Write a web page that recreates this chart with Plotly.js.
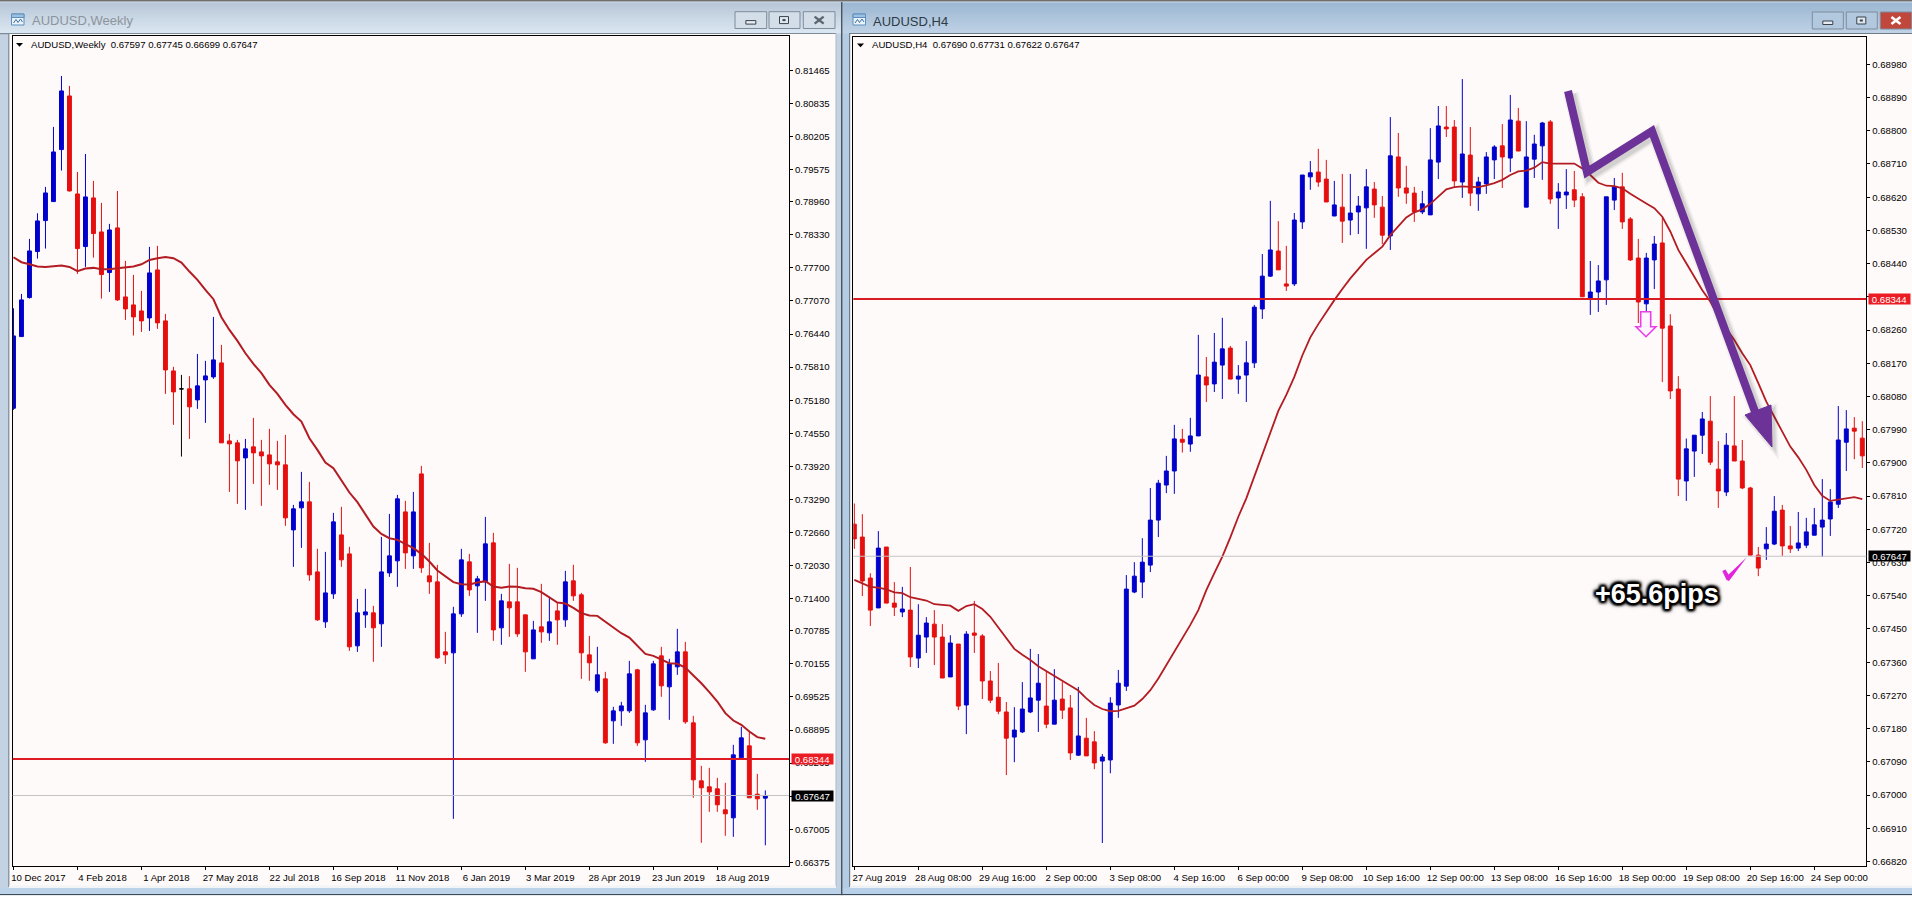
<!DOCTYPE html>
<html><head><meta charset="utf-8">
<script src="https://cdn.plot.ly/plotly-3.0.1.min.js"></script>
<style>html,body{margin:0;padding:0;background:#fff;overflow:hidden}#g{width:1912px;height:897px}</style>
</head><body><div id="g"></div>
<script>
const weeklyOpen=[.75026,.76391,.77134,.78011,.78601,.78963,.79954,.80976,.79109,.78106,
.79033,.78385,.77611,.78462,.77147,.76995,.7688,.76747,.77661,.7669,
.75737,.75395,.75395,.75185,.75566,.75623,.7589,.74404,.74366,.7408,
.7429,.74194,.74137,.74004,.73947,.72708,.73128,.73242,.71908,.70956,
.71489,.72613,.72251,.70499,.71089,.71127,.70918,.71889,.72118,.73051,
.72213,.73775,.71832,.71718,.70384,.70365,.71108,.72099,.71642,.71718,
.72461,.70842,.71337,.71337,.71089,.70251,.70861,.70746,.71165,.70994,
.71737,.7147,.70327,.69641,.6987,.6907,.6926,.6926,.70041,.68708,
.69279,.70308,.69718,.70099,.70384,.69032,.67927,.67813,.67775,.67375,
.67222,.68365,.68594,.67673,.67597];
const weeklyHigh=[.76931,.77204,.78252,.78741,.79243,.80386,.81357,.81167,.79528,.79871,
.79357,.78938,.78538,.79166,.77833,.77566,.77261,.781,.78119,.76823,
.75814,.75661,.75636,.76061,.75928,.76766,.76233,.74537,.74423,.74442,
.74842,.74423,.74633,.74404,.74518,.73185,.73813,.73623,.72347,.72289,
.73032,.73147,.72385,.71394,.71585,.71261,.72575,.73013,.73375,.73261,
.73432,.73928,.72461,.72042,.70765,.71242,.72347,.72251,.71832,.72956,
.72651,.71489,.72061,.71985,.71089,.70975,.7168,.71413,.71318,.71927,
.72042,.71508,.70689,.7048,.70003,.69337,.69432,.70213,.70061,.69375,
.70213,.7048,.70251,.70823,.70575,.69165,.68213,.68175,.67984,.67889,
.68613,.68956,.6886,.6806,.67745];
const weeklyLow=[.74994,.76391,.77115,.77877,.78068,.78963,.79554,.79154,.77585,.77719,
.77896,.77115,.77242,.77071,.76709,.76411,.7648,.76499,.76538,.75299,
.74709,.74105,.74442,.75014,.74747,.75585,.74366,.73432,.73204,.73089,
.73585,.73166,.73566,.7347,.72785,.72004,.72366,.71737,.70975,.70842,
.71394,.72004,.70403,.70384,.70842,.70194,.7048,.71813,.71623,.71965,
.71965,.71889,.71489,.70251,.70156,.67203,.71051,.71451,.70746,.71356,
.70594,.70518,.7067,.7067,.70003,.70251,.70556,.70594,.70518,.70861,
.71356,.6987,.69832,.69603,.68632,.68632,.68975,.69222,.68594,.68289,
.6926,.69527,.69089,.69946,.69013,.67603,.66746,.67336,.67336,.66879,
.6686,.68365,.67603,.67375,.66699];
const weeklyClose=[.76404,.7709,.78023,.78595,.79128,.79909,.81071,.79166,.78068,.79052,
.78354,.77573,.78423,.7709,.76919,.76766,.7669,.77604,.76652,.75756,
.75337,.75395,.75052,.75452,.75642,.75947,.74366,.74347,.74023,.74252,
.74175,.74118,.73966,.73947,.72937,.73109,.73242,.71851,.70994,.71508,
.72861,.72137,.7048,.71127,.71146,.70842,.71908,.72213,.73299,.7227,
.73051,.71985,.71718,.7027,.70327,.71108,.72137,.71565,.71775,.72442,
.70803,.71356,.71223,.70727,.70384,.70803,.70765,.70956,.70994,.71718,
.71451,.70365,.70175,.69946,.68651,.6926,.69355,.69965,.68651,.69222,
.70156,.69737,.70156,.70384,.69051,.67946,.67794,.67717,.6747,.67298,
.68422,.68746,.67603,.67584,.67647];
const weeklyMA=[.77903,.77808,.77769,.77725,.77719,.77725,.77744,.77719,.77636,.77687,
.777,.77674,.77674,.77693,.77712,.77725,.77769,.77852,.77884,.77909,
.77884,.77801,.7763,.77471,.7728,.77103,.7676,.76518,.76309,.76074,
.75871,.75693,.75471,.75299,.7509,.74912,.74772,.74455,.74232,.73991,
.73883,.73661,.7342,.73236,.72994,.72772,.72632,.7255,.72518,.72435,
.72359,.72251,.72105,.71934,.71819,.71712,.71673,.71667,.71705,.71731,
.71629,.71604,.71629,.71623,.71597,.71585,.71521,.71426,.71324,.71305,
.71223,.71121,.71077,.7107,.70962,.70854,.7074,.70657,.70505,.70346,
.70308,.70245,.70168,.70156,.70086,.69934,.69787,.69616,.69438,.69216,
.69076,.68994,.68867,.68759,.68727];
const weeklyPriceTicks=[.81465,.80835,.80205,.79575,.7896,.7833,.777,.7707,.7644,.7581,.7518,.7455,.7392,.7329,.7266,.7203,.714,.70785,.70155,.69525,.68895,.68265,.67635,.67005,.66375];
const weeklyDateTickBars=[0,8,16,24,32,40,48,56,64,72,80,88];
const weeklyDateTicks=["10 Dec 2017","4 Feb 2018","1 Apr 2018","27 May 2018","22 Jul 2018","16 Sep 2018","11 Nov 2018","6 Jan 2019","3 Mar 2019","28 Apr 2019","23 Jun 2019","18 Aug 2019"];

const h4Open=[.67734,.67699,.67588,.67507,.67672,.6752,.67496,.67501,.67371,.67428,
.67463,.67428,.6732,.67409,.67244,.67439,.67431,.67309,.67265,.67225,
.67157,.67171,.67225,.67257,.67241,.67192,.6726,.67236,.67108,.67154,
.67144,.67092,.67095,.67244,.67295,.6755,.67577,.67623,.67745,.6784,
.67878,.67964,.67951,.67973,.68133,.68114,.68165,.68211,.68127,.68138,
.68171,.68317,.68406,.68474,.68385,.68385,.68553,.68675,.68688,.68669,
.68569,.68593,.68558,.6858,.68591,.68642,.68593,.68515,.68729,.68645,
.68631,.6858,.68572,.68715,.6881,.6881,.68661,.68734,.68629,.68656,
.68721,.68759,.68726,.68826,.68593,.68723,.68759,.68824,.68618,.68626,
.6864,.68621,.68347,.68363,.68396,.68612,.68648,.68561,.68455,.68331,
.6845,.68496,.68271,.681,.67851,.67932,.67975,.68013,.67883,.67821,
.67946,.67905,.67832,.6765,.67667,.6768,.67772,.67675,.67669,.67677,
.67704,.67726,.67748,.67788,.67956,.67994,.67967];
const h4High=[.6779,.67761,.67601,.67715,.67672,.67577,.67564,.67618,.67517,.67482,
.67501,.67463,.67433,.67409,.67444,.67526,.67436,.67336,.67358,.67252,
.67238,.67306,.67396,.67382,.67336,.67341,.67306,.67271,.67293,.67209,
.67173,.67111,.67265,.67339,.67596,.67631,.67696,.67832,.67854,.67919,
.68003,.67992,.68022,.68247,.68187,.68252,.68293,.68217,.68165,.6823,
.68328,.68466,.6861,.68555,.68488,.68577,.6868,.68718,.68751,.68721,
.68664,.68683,.68683,.68623,.68696,.68661,.68623,.68837,.68794,.68705,
.68648,.68637,.68807,.68867,.68867,.68829,.6894,.6881,.68675,.68742,
.68761,.68818,.68897,.68862,.68826,.68789,.68824,.68829,.68658,.68696,
.68691,.68631,.68447,.68436,.68621,.68672,.68686,.68566,.68507,.68469,
.68515,.68564,.68303,.68135,.67966,.67975,.68038,.68081,.67959,.67981,
.68081,.67962,.67835,.67672,.67726,.6781,.67786,.67729,.67767,.67751,
.67778,.67856,.67829,.68054,.68043,.68024,.68013];
const h4Low=[.67667,.67539,.67458,.67507,.6752,.67485,.67482,.67347,.67344,.67385,
.67352,.67317,.6732,.6723,.67165,.67385,.6726,.67249,.67219,.67054,
.67089,.67168,.67222,.67171,.67181,.67192,.67206,.67095,.67106,.67106,
.6707,.6687,.67059,.67209,.67282,.67547,.67534,.67604,.67699,.67818,
.67816,.67928,.6793,.67973,.68065,.68092,.68073,.68127,.68087,.68065,
.68157,.6829,.68404,.68423,.68366,.68379,.68534,.6864,.68648,.68607,
.68569,.68496,.68517,.6852,.6848,.68564,.68493,.68477,.68621,.68602,
.68553,.68574,.68572,.68669,.68783,.68645,.68618,.68596,.68583,.68629,
.68669,.68645,.68688,.68745,.68593,.68672,.68667,.68602,.68534,.68588,
.68593,.6835,.68301,.68309,.68328,.68585,.68534,.68447,.68279,.68301,
.68371,.68119,.68073,.6781,.67797,.67862,.67924,.67894,.67778,.6781,
.67905,.67829,.6765,.67593,.67637,.67677,.67648,.67656,.67661,.67669,
.67704,.67645,.67702,.67778,.67878,.6791,.67886];
const h4Close=[.67694,.6758,.67501,.67669,.6752,.67509,.67504,.67374,.67433,.67466,
.67428,.67317,.67412,.67241,.67436,.67433,.67309,.67257,.67227,.67154,
.67176,.67233,.67263,.67303,.67192,.67257,.6723,.67114,.6716,.67106,
.67087,.67103,.67249,.67303,.67558,.67593,.67631,.67745,.67845,.67878,
.67965,.67956,.67973,.68138,.68111,.68173,.68209,.68127,.68135,.68171,
.68322,.68406,.68477,.68423,.68379,.68558,.6868,.68686,.68661,.68607,
.68599,.68555,.68577,.68596,.68648,.68599,.68517,.68732,.68645,.68631,
.6858,.68602,.68721,.68813,.68805,.68664,.68737,.68631,.68661,.68729,
.68756,.68729,.68829,.68745,.68729,.68764,.68821,.68615,.68634,.68634,
.68612,.6835,.68363,.68393,.68621,.68648,.68553,.6845,.68336,.68455,
.68493,.68265,.68095,.67856,.67938,.67975,.68019,.67902,.67824,.67948,
.67905,.67832,.6765,.67615,.6768,.67769,.67675,.67667,.67683,.67713,
.67732,.67745,.67794,.67962,.67992,.67986,.67919];
const h4MA=[.67583,.67573,.67564,.67562,.67557,.67549,.67547,.67536,.67531,.67527,
.67517,.67515,.67513,.67499,.67512,.67517,.67504,.67483,.67454,.67424,
.67396,.6738,.67366,.67349,.67336,.67323,.6731,.67296,.67283,.67262,
.67244,.67233,.67227,.67228,.67234,.67242,.6726,.67284,.67316,.67352,
.67388,.67424,.67461,.67501,.67555,.67601,.67646,.67698,.67754,.67804,
.67863,.67926,.67985,.68041,.68084,.68133,.68191,.6824,.68276,.68309,
.68341,.68371,.684,.68425,.6845,.68468,.68486,.68517,.6854,.68565,
.68579,.68587,.68602,.68621,.68641,.68647,.68649,.68648,.68647,.68652,
.68658,.68667,.6868,.6869,.68692,.687,.68715,.68711,.68711,.68711,
.68711,.68698,.6868,.68659,.68651,.6865,.68644,.68629,.68615,.68603,
.6859,.68567,.68527,.68477,.68441,.68405,.68368,.68337,.68296,.68265,
.68233,.68197,.68165,.68116,.68066,.68025,.67985,.67944,.67915,.67881,
.6784,.67811,.67797,.67801,.67805,.67807,.67802];
const h4PriceTicks=[.6898,.6889,.688,.6871,.6862,.6853,.6844,.6835,.6826,.6817,.6808,.6799,.679,.6781,.6772,.6763,.6754,.6745,.6736,.6727,.6718,.6709,.67,.6691,.6682];
const h4DateTickBars=[0,8,16,24,32,40,48,56,64,72,80,88,96,104,112,120];
const h4DateTicks=["27 Aug 2019","28 Aug 08:00","29 Aug 16:00","2 Sep 00:00","3 Sep 08:00","4 Sep 16:00","6 Sep 00:00","9 Sep 08:00","10 Sep 16:00","12 Sep 00:00","13 Sep 08:00","16 Sep 16:00","18 Sep 00:00","19 Sep 08:00","20 Sep 16:00","24 Sep 00:00"];

const targetLevel=0.68344, lastPrice=0.67647;
const weeklyHeader="AUDUSD,Weekly  0.67597 0.67745 0.66699 0.67647";
const h4Header="AUDUSD,H4  0.67690 0.67731 0.67622 0.67647";
const resultLabel="+65.6pips";

const W=1912,H=897, UP='#0000cd', DOWN='#e60f0f', MA='#b21c22', SNOW='#fffafa';
const FONT='"Liberation Sans", Arial, sans-serif';
const px=x=>x/W, py=y=>1-y/H;
const fmt=v=>v.toFixed(5);

function candleTraces(o,h,l,c,xa,ya){
  const idx=o.map((_,i)=>i);
  const normal=idx.filter(i=>o[i]!==c[i]), doji=idx.filter(i=>o[i]===c[i]);
  const pick=(a,s)=>s.map(i=>a[i]);
  const common={type:'candlestick',xaxis:xa,yaxis:ya,whiskerwidth:0,showlegend:false,hoverinfo:'skip'};
  const tr=[Object.assign({},common,{x:normal,open:pick(o,normal),high:pick(h,normal),low:pick(l,normal),close:pick(c,normal),
    increasing:{line:{color:UP,width:1},fillcolor:UP},decreasing:{line:{color:DOWN,width:1},fillcolor:DOWN}})];
  if(doji.length) tr.push(Object.assign({},common,{x:doji,open:pick(o,doji),high:pick(h,doji),low:pick(l,doji),close:pick(c,doji),
    increasing:{line:{color:'#000',width:1},fillcolor:'#000'},decreasing:{line:{color:'#000',width:1},fillcolor:'#000'}}));
  return tr;
}
const maLine=(y,xa,ya,w)=>({type:'scatter',mode:'lines',x:y.map((_,i)=>i),y:y,xaxis:xa,yaxis:ya,line:{color:MA,width:w},showlegend:false,hoverinfo:'skip'});

const data=[
  ...candleTraces(weeklyOpen,weeklyHigh,weeklyLow,weeklyClose,'x','y'),
  maLine(weeklyMA,'x','y',2),
  ...candleTraces(h4Open,h4High,h4Low,h4Close,'x2','y2'),
  maLine(h4MA,'x2','y2',1.8)
];

/* window chrome */
const shapes=[];
const rect=(x0,y0,x1,y1,fill,line,layer)=>shapes.push({type:'rect',xref:'paper',yref:'paper',x0:px(x0),x1:px(x1),y0:py(y0),y1:py(y1),fillcolor:fill,line:line||{width:0},layer:layer||'below'});
const poly=(pts,fill,line,layer,op)=>shapes.push({type:'path',xref:'paper',yref:'paper',
  path:'M'+pts.map(p=>px(p[0])+','+py(p[1])).join('L')+(fill?'Z':''),fillcolor:fill||'rgba(0,0,0,0)',line:line||{width:0},layer:layer||'below',opacity:op==null?1:op});
const mix=(a,b,t)=>'rgb('+a.map((v,i)=>Math.round(v+(b[i]-v)*t)).join(',')+')';
function titleBar(x0,x1,top,bot){const n=15;for(let i=0;i<n;i++){const y=3+i*30/n;rect(x0,y,x1,y+30/n+.5,mix(top,bot,i/(n-1)));}}

rect(0,0,W,H,'#e9eef4');
// left window
rect(0,2,842,897,'#c3d3e3');
titleBar(0,842,[185,200,216],[218,230,241]);
rect(0,33,836,34.2,'#7e8b98');
rect(9,34,836,886,SNOW);
rect(8.2,33,9.4,887,'#7e8b98');
rect(835.5,33,836.4,887,'#a9b7c4');
rect(9,885.5,836,888,'#f2f4f6');
rect(0,888,842,894,'#bcd2e8');
// right window
rect(842,2,W,897,'#b3cbe3');
titleBar(842,W,[157,184,211],[190,209,229]);
rect(849,33,W,34.2,'#6e7c8a');
rect(850,34,W,886,SNOW);
rect(849,33,850.2,887,'#6e7c8a');
rect(850,885.5,W,888,'#eef1f4');
rect(842,888,W,894,'#b8d0e8');
// frame lines
rect(0,0,W,1.6,'#6f6f6f');
rect(841,2,842.4,897,'#4a5560');
rect(0,894,W,895.3,'#3d4a57');
rect(0,895.3,W,897,'#ffffff');

const btnLine={color:'#7d8c9b',width:1};
function buttons(bx,y0,y1,closeFill,base,glyph){
  [[0],[1],[2]].forEach(([i])=>{
    const x0=bx[i][0],x1=bx[i][1];
    rect(x0,y0,x1,y1,i===2&&closeFill?closeFill:base,btnLine);
    const cx=(x0+x1)/2,cy=(y0+y1)/2;
    if(i===0) rect(cx-5,cy+0.5,cx+5,cy+4,'#e6ecf2',{color:'#39424b',width:1});
    if(i===1){rect(cx-5,cy-3.5,cx+4,cy+3.5,'#dfe7ef',{color:'#39424b',width:1});rect(cx-2,cy-1,cx+1,cy+1,'#39424b');}
    if(i===2){const c=closeFill?'#ffffff':glyph,wd=closeFill?2.6:2.4;
      poly([[cx-4.5,cy-3.5],[cx+4.5,cy+3.5]],null,{color:c,width:wd});
      poly([[cx-4.5,cy+3.5],[cx+4.5,cy-3.5]],null,{color:c,width:wd});}
  });
}
buttons([[735,766.7],[769,800],[803.3,835]],11.7,28.5,null,'#d3dee9','#5a6570');
buttons([[1812.3,1843.3],[1846.3,1877.3],[1880.3,1911.6]],12,29,'#c1473d','#b2c8de');
function winIcon(x,alpha){
  rect(x,14,x+12.5,25,'#eaf2fa',{color:'#5d8fbe',width:1});
  rect(x,14,x+12.5,17.5,'#9cc0e0',{color:'#5d8fbe',width:1});
  poly([[x+2,23],[x+4.5,19.5],[x+6.5,22.5],[x+9,19],[x+11,22]],null,{color:'#3f6f9f',width:1});
}
winIcon(11.5);winIcon(853);
poly([[16,43],[23,43],[19.5,46.8]],'#000000');
poly([[857,43.5],[864,43.5],[860.5,47.2]],'#000000');

/* horizontal levels, on top of the candles */
const hl=(ax,yv,col,w)=>shapes.push({type:'line',xref:ax.x+' domain',yref:ax.y,x0:0,x1:1,y0:yv,y1:yv,line:{color:col,width:w},layer:'above'});
hl({x:'x',y:'y'},lastPrice,'#c4c4c4',1);
hl({x:'x',y:'y'},targetLevel,'#de1b22',2);
hl({x:'x2',y:'y2'},lastPrice,'#c4c4c4',1);
hl({x:'x2',y:'y2'},targetLevel,'#d81c22',1.8);

/* drawn arrow: soft shadow and purple stroke */
const arrowPts=[[1568,91],[1587,172],[1652,131],[1757,417]];
const head=[[1745,415],[1771,405],[1772,447]];
const shift=(p,d)=>p.map(q=>[q[0]+d,q[1]+d]);
[[15,.05],[12,.07],[9.5,.09]].forEach(([w,op])=>{
  poly(shift(arrowPts,3),null,{color:'#333333',width:w},'above',op);
  poly(shift(head,3),'#333333',{color:'#333333',width:w-8},'above',op);
});
poly(arrowPts,null,{color:'#6c3298',width:8},'above');
poly(head,'#6c3298',{color:'#6c3298',width:1},'above');
/* pink hollow down arrow */
poly([[1640.7,311.7],[1650.7,311.7],[1650.7,326.7],[1656,326.7],[1646,336.7],[1636,326.7],[1640.7,326.7]],'#fff5ff',{color:'#e83fe8',width:1.6},'above');
/* pink tick */
poly([[1722.3,571],[1725.5,569.5],[1728.5,574.5],[1746.8,557.3],[1729,581],[1726.5,580]],'#e324dd',{width:0},'above');

/* texts */
const ann=[];
const txt=(t,x,y,size,col,extra)=>ann.push(Object.assign({text:t,xref:'paper',yref:'paper',x:px(x),y:py(y),xanchor:'left',yanchor:'middle',showarrow:false,font:{family:FONT,size:size,color:col}},extra||{}));
txt("AUDUSD,Weekly",30,21,13,'#8d949c');
txt("AUDUSD,H4",871,21.5,13,'#2e3a45');
txt(weeklyHeader.replace('  ','&nbsp;&nbsp;'),28.5,44.5,9.6,'#000');
txt(h4Header.replace('  ','&nbsp;&nbsp;'),869.5,45,9.6,'#000');
const badge=(v,xa,ya,left,bg)=>ann.push({text:fmt(v),xref:'paper',yref:ya,x:px(left),y:v,xanchor:'left',yanchor:'middle',showarrow:false,width:41,height:10,borderpad:0,bgcolor:bg,align:'center',font:{family:FONT,size:9.6,color:'#fff'}});
badge(targetLevel,'x','y',790.7,'#ec1c24');
badge(lastPrice,'x','y',790.7,'#000000');
badge(targetLevel,'x2','y2',1868,'#ec1c24');
badge(lastPrice,'x2','y2',1868,'#000000');
const glow=['0 0 2px #000','0 0 3px #000','0 0 4px #000','0 0 6px #000','2px 0 2px #000','-2px 0 2px #000','0 2px 2px #000','0 -2px 2px #000','2px 2px 3px #000','-2px -2px 3px #000','2px -2px 3px #000','-2px 2px 3px #000'].join(', ');
ann.push({text:'<b>'+resultLabel+'</b>',xref:'paper',yref:'paper',x:px(1657),y:py(594),xanchor:'center',yanchor:'middle',showarrow:false,
  font:{family:FONT,size:27,color:'#fff',shadow:glow}});

const xAxisBase={type:'linear',showgrid:false,zeroline:false,showline:true,mirror:true,linecolor:'#000',linewidth:1,ticks:'outside',ticklen:3,tickwidth:1,tickcolor:'#000',
  tickfont:{family:FONT,size:9.6,color:'#000'},tickangle:0,fixedrange:true,rangeslider:{visible:false},automargin:false,ticklabelshift:25,ticklabeloverflow:'allow'};
const yAxisBase={type:'linear',side:'right',showgrid:false,zeroline:false,showline:true,mirror:true,linecolor:'#000',linewidth:1,ticks:'outside',ticklen:3,tickwidth:1,tickcolor:'#000',
  tickfont:{family:FONT,size:9.6,color:'#000'},fixedrange:true,automargin:false};

const layout={width:W,height:H,autosize:false,margin:{l:0,r:0,t:0,b:0},paper_bgcolor:'#ffffff',plot_bgcolor:SNOW,showlegend:false,dragmode:false,hovermode:false,
  xaxis:Object.assign({},xAxisBase,{domain:[px(12.67),px(789)],range:[-0.1,96.96],anchor:'y',tickmode:'array',tickvals:weeklyDateTickBars,ticktext:weeklyDateTicks}),
  yaxis:Object.assign({},yAxisBase,{domain:[py(865.7),py(36)],range:[.66310,.82118],anchor:'x',tickmode:'array',tickvals:weeklyPriceTicks,ticktext:weeklyPriceTicks.map(fmt)}),
  xaxis2:Object.assign({},xAxisBase,{domain:[px(853.3),px(1866.3)],range:[-0.13,126.5],anchor:'y2',tickmode:'array',tickvals:h4DateTickBars,ticktext:h4DateTicks}),
  yaxis2:Object.assign({},yAxisBase,{domain:[py(865.5),py(37)],range:[.66809,.69054],anchor:'x2',tickmode:'array',tickvals:h4PriceTicks,ticktext:h4PriceTicks.map(fmt)}),
  shapes:shapes,annotations:ann};
Plotly.newPlot('g',data,layout,{staticPlot:true,displayModeBar:false,responsive:false});
</script></body></html>
